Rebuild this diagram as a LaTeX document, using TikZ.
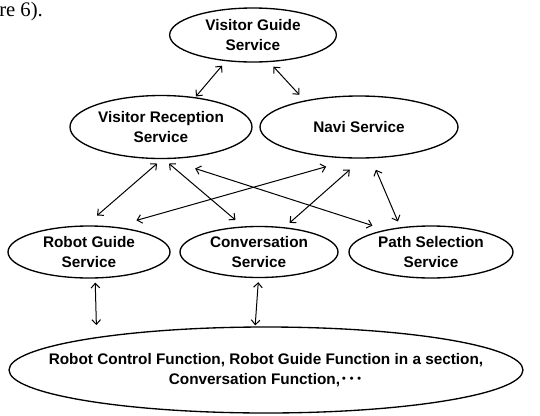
\documentclass[tikz,border=0pt]{standalone}
\usepackage{fontspec}
\setmainfont{Liberation Serif}
\setsansfont{Liberation Sans}
\newfontfamily\cjk{Noto Sans CJK JP}
\usetikzlibrary{shapes.geometric, arrows.meta, positioning}

\tikzset{
  svc/.style={ellipse, draw, line width=1pt, inner sep=0pt, align=center,
    font=\sffamily\bfseries\fontsize{11.5}{15.5}\selectfont},
  link/.style={{Straight Barb[length=3.5pt,width=6.5pt]}-{Straight Barb[length=3.5pt,width=6.5pt]}, line width=0.75pt}
}

\begin{document}
\begin{tikzpicture}[x=0.75pt, y=-0.75pt, on grid]
     \useasboundingbox (0,0) rectangle (540,415);
     \node[anchor=base west, font=\fontsize{15.5}{18}\selectfont, inner sep=0pt] (cap) at (-1,16) {re 6).};

     \node[svc, minimum width=125pt, minimum height=40.5pt] (vg) at (253,35) {Visitor Guide\\Service};
     \node[svc, minimum width=136.5pt, minimum height=47.25pt] (vr) [below left=69pt and 69pt of vg] {Visitor Reception\\Service};
     \node[svc, minimum width=148.5pt, minimum height=46.5pt] (navi) [right=148.5pt of vr] {Navi Service};
     \node[svc, minimum width=121.5pt, minimum height=39pt] (rg) [below left=93.75pt and 54pt of vr] {Robot Guide\\Service};
     \node[svc, minimum width=118.5pt, minimum height=38.25pt] (cv) [right=127.5pt of rg] {Conversation\\Service};
     \node[svc, minimum width=123pt, minimum height=39pt] (ps) [right=129pt of cv] {Path Selection\\Service};
     \node[svc, minimum width=385.5pt, minimum height=64.5pt, inner xsep=-30pt] (fn) [below right=88.5pt and 5.25pt of cv]
       {Robot Control Function, Robot Guide Function in a section,\\Conversation Function,{\cjk ･･･}};

     \path[link]
     (vg.224) edge [shorten <=4.4pt, shorten >=0.7pt] (vr.41)
     (vg.301) edge [shorten <=4.6pt, shorten >=5.8pt] (navi.154)
     (vr.272) edge [shorten <=5pt, shorten >=11.2pt] (rg.97)
     (vr.275) edge [shorten <=5.1pt, shorten >=7.4pt] (cv.122)
     (vr.279) edge [shorten <=22.9pt, shorten >=10.2pt] (ps.154)
     (navi.262) edge [shorten <=22.1pt, shorten >=17.2pt] (rg.45)
     (navi.276) edge [shorten <=12.5pt, shorten >=4.9pt] (cv.44)
     (navi.291) edge [shorten <=9.2pt, shorten >=4.7pt] (ps.141)
     (rg.283) edge [shorten <=3pt, shorten >=9pt] (fn.169)
     (cv.269) edge [shorten <=3pt, shorten >=0.75pt] (fn.104);
  \end{tikzpicture}
\end{document}
